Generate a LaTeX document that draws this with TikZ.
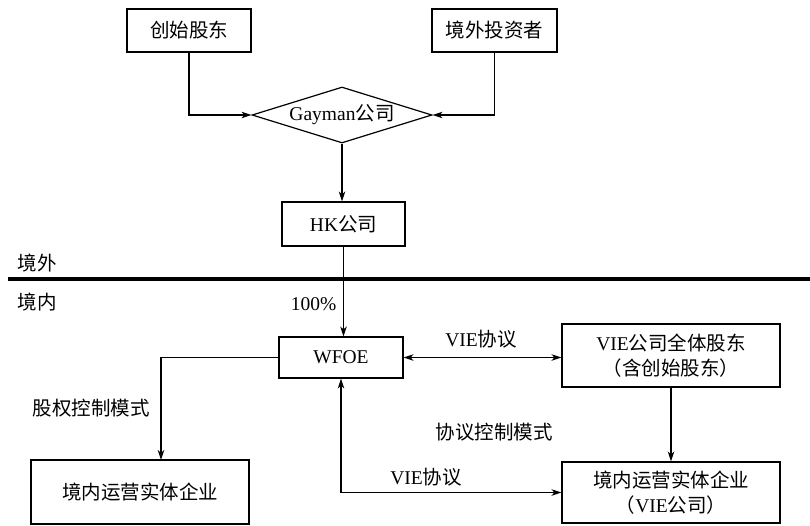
\documentclass[tikz,border=0pt]{standalone}
\usepackage{fontspec}
\setmainfont{Liberation Serif}
\newfontfamily\cjk{Noto Sans CJK SC}
\usetikzlibrary{shapes.geometric,arrows.meta}
\begin{document}
\begin{tikzpicture}[x=1pt,y=-1pt,
  font=\fontsize{19.5}{25}\selectfont,
  line width=1.2pt,
  arr/.style={-{Stealth[length=10pt,width=6.5pt,inset=3pt]}},
  darr/.style={{Stealth[length=10pt,width=6.5pt,inset=3pt]}-{Stealth[length=10pt,width=6.5pt,inset=3pt]}},
  box/.style={draw,inner sep=0pt,align=center},
  lbl/.style={inner sep=0pt}]
\useasboundingbox (0,0) rectangle (810,525);
% boxes
\node[box,minimum width=124pt,minimum height=43pt] (a) at (189,30.5) {\cjk 创始股东};
\node[box,minimum width=125pt,minimum height=43pt] (b) at (494.5,30.5) {\cjk 境外投资者};
\node[draw,diamond,aspect=3.2,inner sep=0pt,minimum width=180pt,minimum height=56pt] (g) at (342,115) {Gayman{\cjk 公司}};
\node[box,minimum width=123pt,minimum height=44pt] (hk) at (343.5,224) {HK{\cjk 公司}};
\node[box,minimum width=124pt,minimum height=41pt] (w) at (341,357.5) {WFOE};
\node[box,minimum width=218pt,minimum height=64pt] (l) at (140,492) {\cjk 境内运营实体企业};
\node[box,minimum width=218pt,minimum height=63pt] (v) at (671,355.5) {VIE{\cjk 公司全体股东}\\{\cjk （含创始股东）}};
\node[box,minimum width=218pt,minimum height=61pt] (e) at (671,492.5) {{\cjk 境内运营实体企业}\\{\cjk （}VIE{\cjk 公司）}};
% border line
\coordinate (bl) at (8,279);
\coordinate (br) at (810,279);
\draw[line width=4.5pt] (bl) -- (br);
% labels
\node[lbl,anchor=west] (t1) at (17,263) {\cjk 境外};
\node[lbl,anchor=west] (t2) at (17,302) {\cjk 境内};
\node[lbl,anchor=east] (p) at (337,304) {100\%};
\node[lbl] (m1) at (91,408) {\cjk 股权控制模式};
\node[lbl] (m2) at (494,432) {\cjk 协议控制模式};
\node[lbl] (q1) at (481,339) {VIE{\cjk 协议}};
\node[lbl] (q2) at (426,477) {VIE{\cjk 协议}};
% connectors
\draw[arr] (a.south) |- (g.west);
\draw[arr] (b.south) |- (g.east);
\draw[arr] (g.south) -- (g.south |- hk.north);
\draw[arr] (hk.south) -- (hk.south |- w.north);
\coordinate (lt) at (161,460);
\draw[arr] (w.west) -| (lt);
\draw[darr] (w.east) -- (w.east -| v.west);
\draw[arr] (v.south) -- (e.north);
\draw[darr] (w.south) |- (e.west);
\end{tikzpicture}
\end{document}
